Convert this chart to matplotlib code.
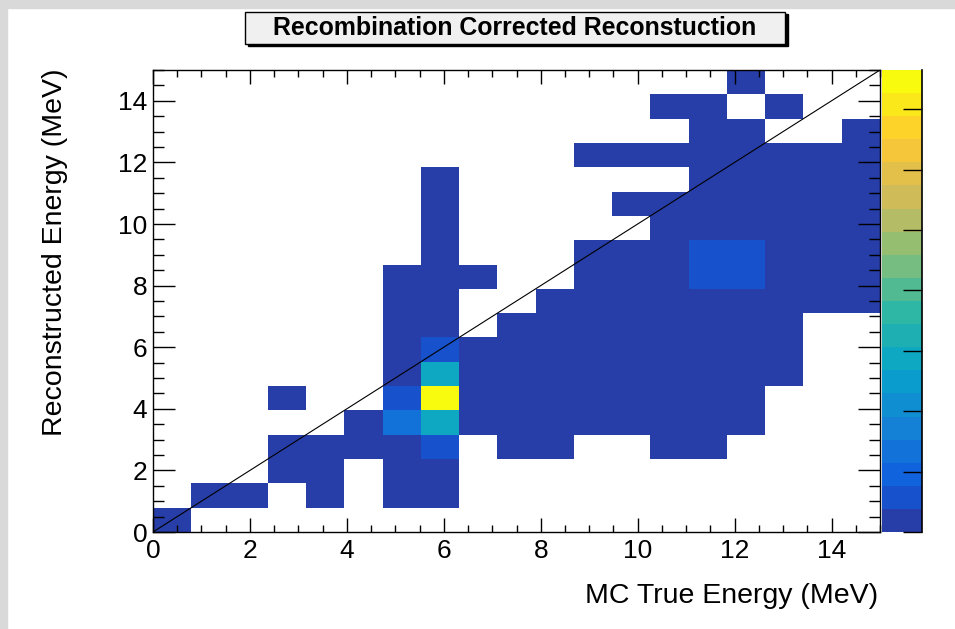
import numpy as np
import matplotlib
matplotlib.use('Agg')
import matplotlib.pyplot as plt
from matplotlib.colors import LinearSegmentedColormap, ListedColormap, Normalize
from matplotlib.patches import Rectangle

plt.rcParams['font.family'] = ['Liberation Sans', 'DejaVu Sans']

title = "Recombination Corrected Reconstuction"
xlabel = "MC True Energy (MeV)"
ylabel = "Reconstructed Energy (MeV)"

n_bins = 19
e_range = [0, 15]
z_range = [0, 15.3]
n_contours = 20

# bin contents
level = {'.': 0, 'd': 0.6, 'm': 1.3, 'b': 2.5, 't': 5.7, 'y': 15.0}

# reco-energy rows, lowest first; one char per true-energy bin
rows = [
    "d..................",
    ".dd.d.dd...........",
    "...dd.dd...........",
    "...ddddm.dd..dd....",
    ".....dbtdddddddd...",
    "...d..mydddddddd...",
    "......dtddddddddd..",
    "......dmddddddddd..",
    "......dd.dddddddd..",
    "......dd..ddddddddd",
    "......ddd..dddmmddd",
    ".......d...dddmmddd",
    ".......d.....dddddd",
    ".......d....ddddddd",
    ".......d......ddddd",
    "...........dddddddd",
    "..............dd..d",
    ".............dd.d..",
    "...............d...",
]

diag = [0, 15]

# ROOT kBird palette
bird_stops = [0.0, 0.125, 0.25, 0.375, 0.5, 0.625, 0.75, 0.875, 1.0]
bird_r = [0.2082, 0.0592, 0.0780, 0.0232, 0.1802, 0.5301, 0.8186, 0.9956, 0.9764]
bird_g = [0.1664, 0.3599, 0.5041, 0.6419, 0.7178, 0.7492, 0.7328, 0.7862, 0.9832]
bird_b = [0.5293, 0.8684, 0.8385, 0.7914, 0.6425, 0.4662, 0.3499, 0.1968, 0.0539]
bird = LinearSegmentedColormap.from_list(
    'bird', list(zip(bird_stops, zip(bird_r, bird_g, bird_b))))
cmap = ListedColormap([bird(min((k + 0.99) / n_contours, 1.0)) for k in range(n_contours)])
norm = Normalize(*z_range)

content = np.array([[level[c] for c in r] for r in rows])
content = np.ma.masked_equal(content, 0)
edges = np.linspace(e_range[0], e_range[1], n_bins + 1)

W, H = 955, 629
fig = plt.figure(figsize=(W / 100, H / 100), dpi=100)
fig.patch.set_facecolor('white')
# window frame strips
fig.patches.append(Rectangle((0, 1 - 8 / H), 1, 8 / H, transform=fig.transFigure,
                             color='#d9d9d9', zorder=0))
fig.patches.append(Rectangle((0, 0), 7 / W, 1, transform=fig.transFigure,
                             color='#d9d9d9', zorder=0))

ax = fig.add_axes([153 / W, 1 - 532 / H, 727 / W, 462 / H])
cax = fig.add_axes([882 / W, 1 - 532 / H, 40 / W, 462 / H])

mesh = ax.pcolormesh(edges, edges, content, cmap=cmap, norm=norm)
ax.plot(diag, diag, color='black', lw=0.8)

ax.set_xlim(*e_range)
ax.set_ylim(*e_range)
ax.set_xticks(np.arange(0, 15, 2))
ax.set_yticks(np.arange(0, 15, 2))
ax.set_xticks(np.arange(0, 15.01, 0.5), minor=True)
ax.set_yticks(np.arange(0, 15.01, 0.5), minor=True)
ax.tick_params(which='both', direction='in', top=True, right=True, labelsize=19, width=1)
ax.xaxis.set_tick_params(which='major', length=10, pad=5)
ax.xaxis.set_tick_params(which='minor', length=5)
ax.yaxis.set_tick_params(which='major', length=16, pad=4)
ax.yaxis.set_tick_params(which='minor', length=8)
for s in ax.spines.values():
    s.set_linewidth(1)

cb = fig.colorbar(mesh, cax=cax)
cb.outline.set_visible(False)
cax.spines['right'].set_visible(True)
cax.spines['right'].set_linewidth(1.2)
cax.yaxis.set_ticks_position('right')
cb.set_ticks(np.arange(0, 15, 2))
cax.tick_params(direction='in', length=14, width=1, labelright=False)
cax.minorticks_off()

fig.text(878 / W, 1 - 603 / H, xlabel, ha='right', va='baseline', fontsize=20.5)
fig.text(55 / W, 1 - 68 / H, ylabel, rotation=90, ha='center', va='top', fontsize=20.5)

# title box with shadow
fig.patches.append(Rectangle((248 / W, 1 - 46 / H), 540 / W, 32 / H,
                             transform=fig.transFigure, color='black', zorder=2))
fig.patches.append(Rectangle((245 / W, 1 - 44 / H), 540 / W, 32 / H,
                             transform=fig.transFigure, facecolor='#f0f0f0',
                             edgecolor='black', lw=1, zorder=3))
fig.text(515 / W, 1 - 28 / H, title, ha='center', va='center',
         fontsize=17.9, fontweight='bold', zorder=4)

plt.savefig("out.png", dpi=100)
